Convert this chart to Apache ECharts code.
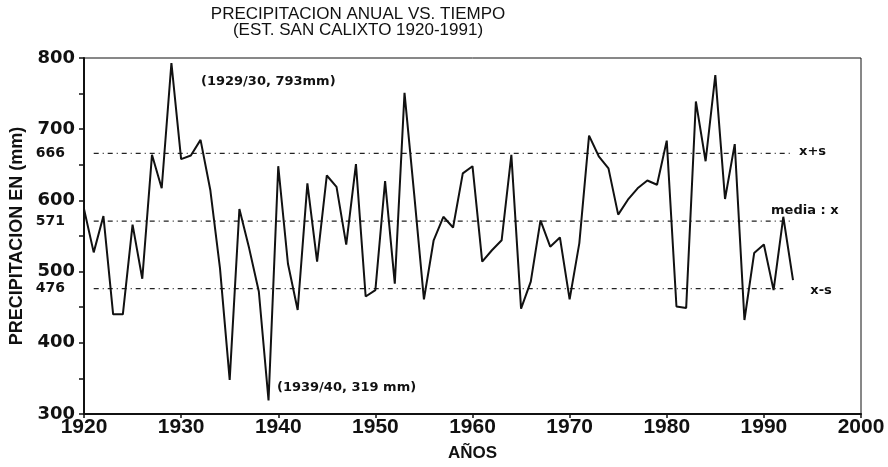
<!DOCTYPE html>
<html>
<head>
<meta charset="utf-8">
<script src="https://cdn.jsdelivr.net/npm/echarts@6/dist/echarts.min.js"></script>
<style>html,body{margin:0;padding:0;background:#fff}#c{width:888px;height:467px}</style>
</head>
<body>
<div id="c"></div>
<script>
const years = [1920,1921,1922,1923,1924,1925,1926,1927,1928,1929,1930,1931,1932,1933,1934,1935,1936,1937,1938,1939,
  1940,1941,1942,1943,1944,1945,1946,1947,1948,1949,1950,1951,1952,1953,1954,1955,1956,1957,1958,1959,
  1960,1961,1962,1963,1964,1965,1966,1967,1968,1969,1970,1971,1972,1973,1974,1975,1976,1977,1978,1979,
  1980,1981,1982,1983,1984,1985,1986,1987,1988,1989,1990,1991,1992,1993];
const precip = [588,527,578,440,440,566,490,664,617,793,658,663,685,615,505,348,588,533,472,319,
  648,511,446,624,514,635,619,538,651,465,474,627,483,751,608,461,544,577,562,638,
  648,514,530,544,664,448,486,572,535,548,461,540,691,662,645,580,601,617,628,622,
  684,451,449,739,655,776,602,679,432,526,538,474,577,488];
const refValues = [666, 571, 476];
const refLabels = ['x+s', 'media : x', 'x-s'];
const refStart = [1921, 1921, 1921];
const refEnd = [1993, 1993, 1992];
const xTicks = [1920,1930,1940,1950,1960,1970,1980,1990,2000];
const yMajor = [300,400,500,600,700,800];
const titleLines = ['PRECIPITACION ANUAL VS. TIEMPO', '(EST. SAN CALIXTO 1920-1991)'];
const notes = ['(1929/30, 793mm)', '(1939/40, 319 mm)'];

const chart = echarts.init(document.getElementById('c'));
const bold = 'DejaVu Sans';
const refOffsets = [[6,-2],[-22,-10],[27,2]];
const refSeries = refValues.map((v,i)=>({
  type:'line', xAxisIndex:0, yAxisIndex:0, silent:true, symbol:'none',
  data:[[refStart[i], v],[refEnd[i], v]],
  lineStyle:{color:'#222', width:1.2, type:[5,4,1,4]},
  endLabel:{show:true, formatter:refLabels[i], distance:0, align:'left', verticalAlign:'middle',
    offset:refOffsets[i], fontFamily:bold, fontWeight:'bold', fontSize:13, color:'#111'}
}));

chart.setOption({
  animation:false,
  grid:{left:84, right:27, top:58, bottom:53, show:true, borderColor:'#111', borderWidth:1,
    containLabel:false, outerBoundsMode:'none'},
  xAxis:{type:'value', min:1920, max:2000, interval:10,
    name:'AÑOS', nameLocation:'middle', nameGap:31,
    nameTextStyle:{fontFamily:'Liberation Sans', fontWeight:'bold', fontSize:17, color:'#111'},
    axisLine:{show:true, onZero:false, lineStyle:{color:'#111', width:2}},
    axisTick:{show:true, inside:false, length:4, lineStyle:{color:'#111', width:1.5}},
    splitLine:{show:false},
    axisLabel:{margin:3, formatter:v=>String(v), fontFamily:'Liberation Sans', fontWeight:'bold', fontSize:21, color:'#111',
      customValues:xTicks}
  },
  yAxis:[
    {type:'value', min:300, max:800, interval:50, position:'left',
      name:'PRECIPITACION EN (mm)', nameLocation:'middle', nameGap:57, nameRotate:90,
      nameTextStyle:{fontFamily:'Liberation Sans', fontWeight:'bold', fontSize:18, color:'#111'},
      axisLine:{show:true, lineStyle:{color:'#111', width:2}},
      axisTick:{show:true, inside:false, length:5, lineStyle:{color:'#111', width:1.5}},
      splitLine:{show:false},
      axisLabel:{margin:9, customValues:yMajor, fontFamily:bold, fontWeight:'bold', fontSize:18, color:'#111'}
    },
    {type:'value', min:300, max:800, position:'left',
      axisLine:{show:false}, axisTick:{show:false}, splitLine:{show:false},
      axisLabel:{margin:19, customValues:refValues, fontFamily:bold, fontWeight:'bold', fontSize:14, color:'#111'}
    }
  ],
  graphic:[
    {type:'text', x:358, y:6, style:{text:titleLines[0], fontFamily:'Liberation Sans', fontSize:17, fill:'#111', align:'center'}, z:10},
    {type:'text', x:358, y:22, style:{text:titleLines[1], fontFamily:'Liberation Sans', fontSize:17, fill:'#111', align:'center'}, z:10},
    {type:'text', x:201, y:75, style:{text:notes[0], fontFamily:bold, fontWeight:'bold', fontSize:13, fill:'#111'}},
    {type:'text', x:277, y:381, style:{text:notes[1], fontFamily:bold, fontWeight:'bold', fontSize:13, fill:'#111'}}
  ],
  series:[
    {type:'line', name:'precip', symbol:'none', data:years.map((y,i)=>[y, precip[i]]),
      lineStyle:{color:'#111', width:2}, z:5},
    ...refSeries
  ]
});
</script>
</body>
</html>
